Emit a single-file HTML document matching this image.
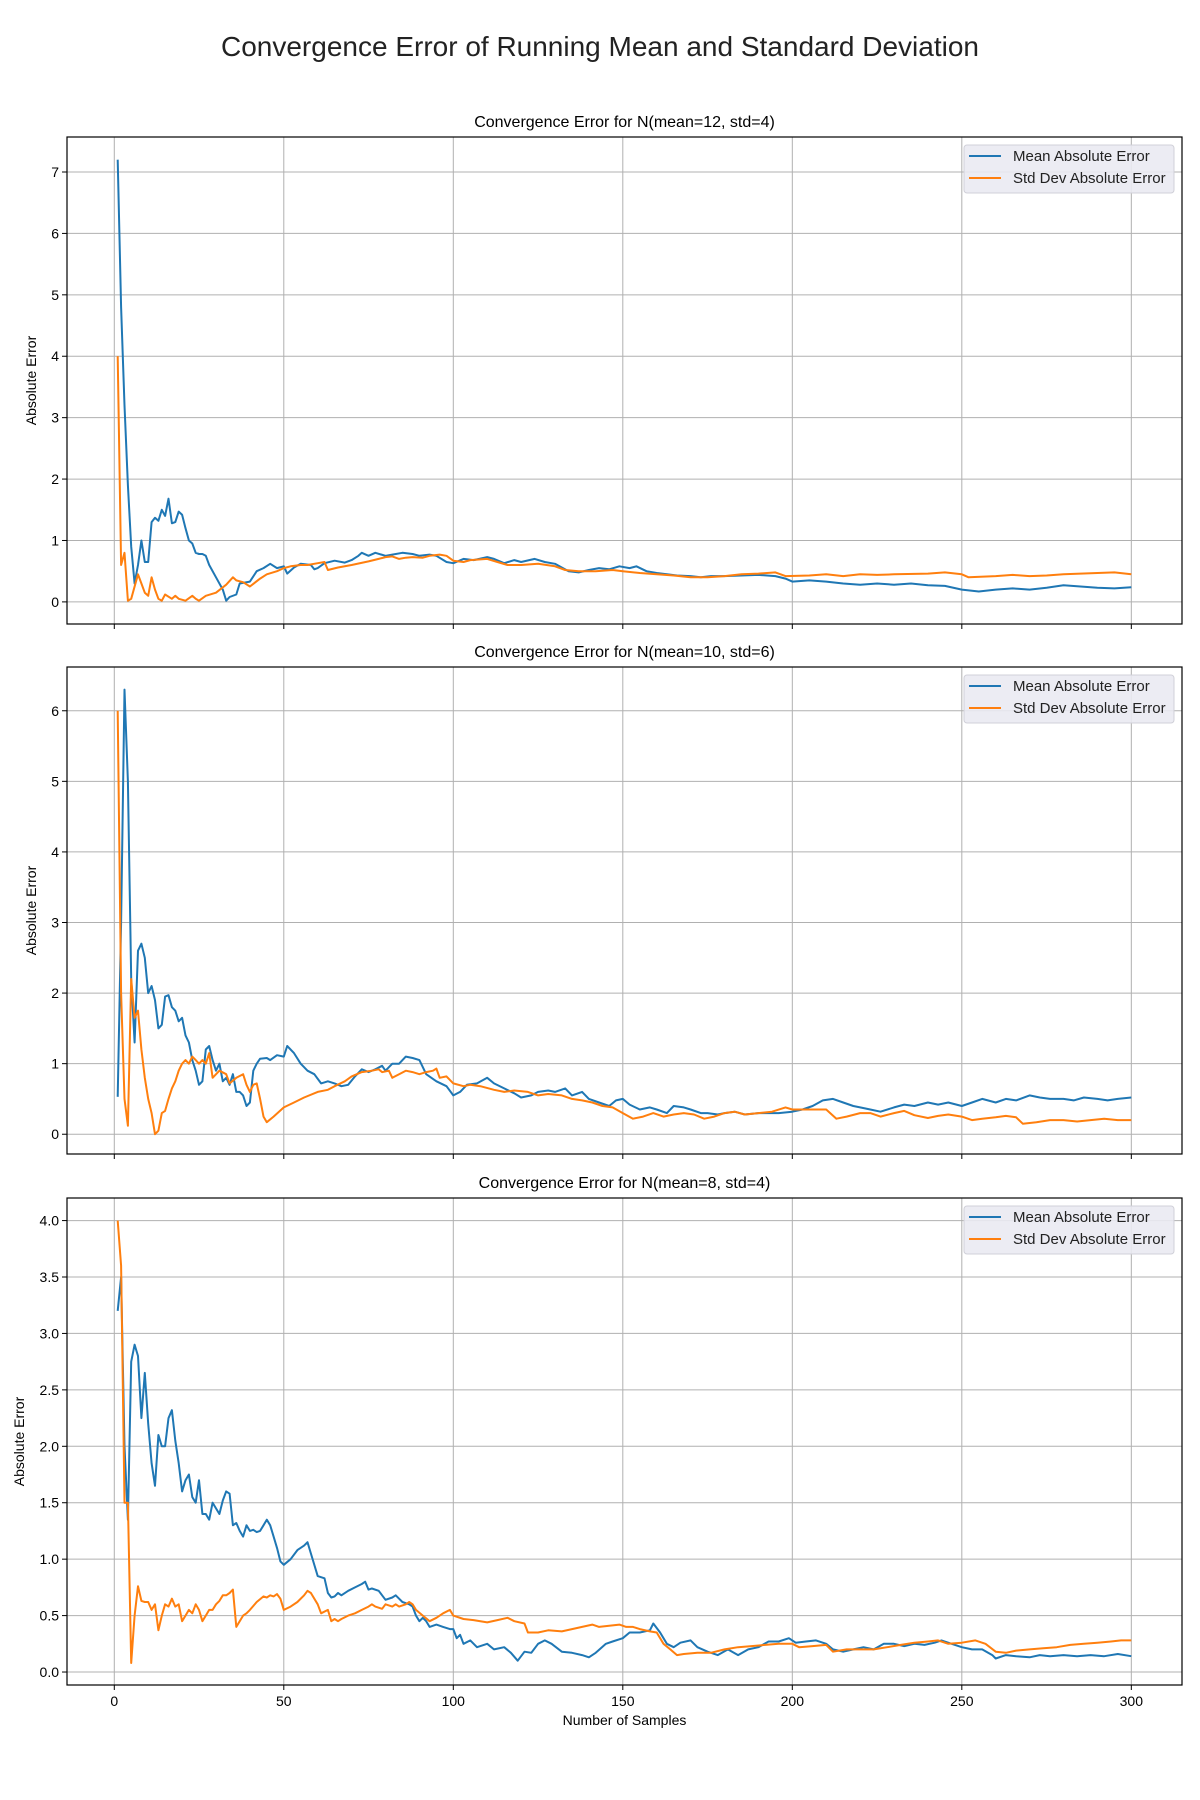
<!DOCTYPE html>
<html><head><meta charset="utf-8"><style>
body{margin:0;background:#fff;}
svg{display:block;font-family:"Liberation Sans",Arial,sans-serif;}
</style></head><body>
<svg id="fig" width="1200" height="1800" viewBox="0 0 1200 1800" xmlns="http://www.w3.org/2000/svg">
<text x="600" y="56" text-anchor="middle" font-size="28" fill="#222">Convergence Error of Running Mean and Standard Deviation</text>
</svg>
<script>
const xTicks=[0,50,100,150,200,250,300];
const titles=["Convergence Error for N(mean=12, std=4)","Convergence Error for N(mean=10, std=6)","Convergence Error for N(mean=8, std=4)"];
const legendLabels=["Mean Absolute Error","Std Dev Absolute Error"];
const p1Ticks=[0,1,2,3,4,5,6,7];
const p2Ticks=[0,1,2,3,4,5,6];
const p3Ticks=[0,0.5,1,1.5,2,2.5,3,3.5,4];
const p3TickLabels=["0.0","0.5","1.0","1.5","2.0","2.5","3.0","3.5","4.0"];

const p1MeanX=[1,2,3,4,5,6,7,8,9,10,11,12,13,14,15,16,17,18,19,20,21,22,23,24,25,26,27,28,30,32,33,34,36,37,40,42,44,46,48,50,51,53,55,58,59,60,62,65,68,70,72,73,75,77,80,82,85,88,90,93,95,98,100,103,106,110,112,115,118,120,124,127,130,134,137,140,143,146,149,152,154,157,160,163,166,170,173,176,180,185,190,195,198,200,205,210,215,220,225,230,235,240,245,250,255,260,265,270,275,280,285,290,295,300];
const p1MeanY=[7.2,4.8,3.2,1.9,0.9,0.3,0.6,1.0,0.65,0.65,1.3,1.37,1.32,1.5,1.4,1.68,1.28,1.3,1.47,1.42,1.2,1.0,0.95,0.8,0.78,0.78,0.75,0.6,0.4,0.2,0.02,0.08,0.12,0.3,0.33,0.5,0.55,0.62,0.55,0.58,0.46,0.56,0.62,0.6,0.53,0.55,0.63,0.67,0.64,0.68,0.75,0.8,0.75,0.8,0.75,0.77,0.8,0.78,0.75,0.77,0.75,0.65,0.63,0.7,0.68,0.73,0.7,0.63,0.68,0.65,0.7,0.65,0.62,0.5,0.48,0.52,0.55,0.53,0.58,0.55,0.58,0.5,0.47,0.45,0.43,0.42,0.4,0.42,0.42,0.43,0.44,0.42,0.38,0.33,0.35,0.33,0.3,0.28,0.3,0.28,0.3,0.27,0.26,0.2,0.17,0.2,0.22,0.2,0.23,0.27,0.25,0.23,0.22,0.24];
const p1StdX=[1,2,3,4,5,7,8,9,10,11,12,13,14,15,17,18,19,21,23,24,25,27,30,33,35,36,38,40,43,45,48,50,52,55,57,60,62,63,66,70,75,78,80,82,84,86,88,91,93,96,98,100,103,105,110,113,116,120,125,130,133,137,142,147,150,155,160,165,170,175,180,185,190,195,198,205,210,215,220,225,230,240,245,250,252,260,265,270,275,280,285,290,295,300];
const p1StdY=[4.0,0.6,0.8,0.02,0.05,0.45,0.3,0.15,0.1,0.4,0.2,0.05,0.02,0.12,0.05,0.1,0.05,0.02,0.1,0.05,0.02,0.1,0.15,0.28,0.4,0.35,0.32,0.25,0.38,0.45,0.5,0.55,0.58,0.6,0.6,0.63,0.65,0.52,0.56,0.6,0.66,0.7,0.73,0.74,0.7,0.72,0.73,0.72,0.75,0.77,0.75,0.67,0.65,0.68,0.7,0.65,0.6,0.6,0.62,0.58,0.52,0.5,0.5,0.52,0.5,0.47,0.45,0.43,0.4,0.4,0.42,0.45,0.46,0.48,0.42,0.43,0.45,0.42,0.45,0.44,0.45,0.46,0.48,0.45,0.4,0.42,0.44,0.42,0.43,0.45,0.46,0.47,0.48,0.45];

const p2MeanX=[1,2,3,4,5,6,7,8,9,10,11,12,13,14,15,16,17,18,19,20,21,22,23,24,25,26,27,28,29,30,31,32,33,34,35,36,37,38,39,40,41,42,43,45,46,48,50,51,53,55,57,59,61,63,65,67,69,71,73,75,77,79,80,82,84,86,88,90,92,95,98,100,102,104,107,110,112,115,118,120,123,125,128,130,133,135,138,140,143,146,148,150,152,155,158,160,163,165,168,170,173,175,178,180,183,186,190,193,196,200,203,206,209,212,215,218,220,223,226,230,233,236,240,243,246,250,253,256,260,263,266,270,273,276,280,283,286,290,293,296,300];
const p2MeanY=[0.53,3.0,6.3,5.0,2.2,1.3,2.6,2.7,2.5,2.0,2.1,1.9,1.5,1.55,1.95,1.97,1.8,1.75,1.6,1.65,1.4,1.3,1.05,0.9,0.7,0.75,1.2,1.25,1.05,0.9,1.0,0.75,0.8,0.7,0.85,0.6,0.6,0.55,0.4,0.45,0.9,1.0,1.07,1.08,1.05,1.12,1.1,1.25,1.15,1.0,0.9,0.85,0.72,0.75,0.72,0.68,0.7,0.82,0.92,0.88,0.92,0.97,0.9,1.0,1.0,1.1,1.08,1.05,0.85,0.75,0.68,0.55,0.6,0.7,0.72,0.8,0.72,0.65,0.58,0.52,0.55,0.6,0.62,0.6,0.65,0.55,0.6,0.5,0.45,0.4,0.48,0.5,0.42,0.35,0.38,0.35,0.3,0.4,0.38,0.35,0.3,0.3,0.28,0.3,0.32,0.28,0.3,0.3,0.3,0.32,0.35,0.4,0.48,0.5,0.45,0.4,0.38,0.35,0.32,0.38,0.42,0.4,0.45,0.42,0.45,0.4,0.45,0.5,0.45,0.5,0.48,0.55,0.52,0.5,0.5,0.48,0.52,0.5,0.48,0.5,0.52];
const p2StdX=[1,2,3,4,5,6,7,8,9,10,11,12,13,14,15,16,17,18,19,20,21,22,23,24,25,26,27,28,29,31,33,34,36,38,39,40,41,42,43,44,45,47,50,53,56,60,63,65,68,70,73,76,78,79,81,82,84,86,88,90,92,94,95,96,98,100,103,105,108,112,115,118,122,125,128,132,135,138,141,144,147,150,153,156,159,162,165,168,171,174,177,180,183,186,190,194,198,200,205,210,213,216,220,223,226,230,233,236,240,243,246,250,253,256,260,263,266,268,272,276,280,284,288,292,296,300];
const p2StdY=[6.0,2.0,0.5,0.12,2.2,1.65,1.75,1.2,0.8,0.5,0.3,0.0,0.05,0.3,0.33,0.5,0.65,0.75,0.9,1.0,1.05,1.0,1.1,1.05,1.0,1.05,1.0,1.15,0.8,0.9,0.85,0.72,0.8,0.85,0.7,0.6,0.7,0.72,0.5,0.25,0.17,0.25,0.38,0.45,0.52,0.6,0.63,0.68,0.75,0.82,0.88,0.9,0.92,0.88,0.9,0.8,0.85,0.9,0.88,0.85,0.88,0.9,0.93,0.8,0.82,0.72,0.68,0.7,0.68,0.63,0.6,0.62,0.6,0.55,0.57,0.55,0.5,0.48,0.45,0.4,0.38,0.3,0.22,0.25,0.3,0.25,0.28,0.3,0.28,0.22,0.25,0.3,0.32,0.28,0.3,0.32,0.38,0.35,0.35,0.35,0.22,0.25,0.3,0.3,0.25,0.3,0.33,0.27,0.23,0.26,0.28,0.25,0.2,0.22,0.24,0.26,0.24,0.15,0.17,0.2,0.2,0.18,0.2,0.22,0.2,0.2];

const p3MeanX=[1,2,3,4,5,6,7,8,9,10,11,12,13,14,15,16,17,18,19,20,21,22,23,24,25,26,27,28,29,30,31,32,33,34,35,36,37,38,39,40,41,42,43,44,45,46,47,48,49,50,52,54,56,57,58,60,62,63,64,65,66,67,69,71,73,74,75,76,78,79,80,82,83,84,85,87,88,89,90,91,92,93,95,97,99,100,101,102,103,105,107,110,112,115,117,119,121,123,125,127,129,132,135,138,140,142,145,147,150,152,155,158,159,161,163,165,167,170,172,175,178,181,184,187,190,193,196,199,201,204,207,210,212,215,218,221,224,227,230,233,236,239,242,244,247,250,253,256,259,260,263,266,270,273,276,280,284,288,292,296,300];
const p3MeanY=[3.2,3.5,2.0,1.35,2.75,2.9,2.8,2.25,2.65,2.2,1.85,1.65,2.1,2.0,2.0,2.25,2.32,2.05,1.85,1.6,1.7,1.75,1.55,1.5,1.7,1.4,1.4,1.35,1.5,1.45,1.4,1.52,1.6,1.58,1.3,1.32,1.25,1.2,1.3,1.25,1.26,1.24,1.25,1.3,1.35,1.3,1.2,1.1,0.98,0.95,1.0,1.08,1.12,1.15,1.05,0.85,0.83,0.7,0.66,0.67,0.7,0.68,0.72,0.75,0.78,0.8,0.73,0.74,0.72,0.68,0.64,0.66,0.68,0.65,0.62,0.6,0.58,0.5,0.45,0.48,0.45,0.4,0.42,0.4,0.38,0.38,0.3,0.33,0.25,0.28,0.22,0.25,0.2,0.22,0.17,0.1,0.18,0.17,0.25,0.28,0.25,0.18,0.17,0.15,0.13,0.17,0.25,0.27,0.3,0.35,0.35,0.37,0.43,0.35,0.25,0.22,0.26,0.28,0.22,0.18,0.15,0.2,0.15,0.2,0.22,0.27,0.27,0.3,0.26,0.27,0.28,0.25,0.2,0.18,0.2,0.22,0.2,0.25,0.25,0.23,0.25,0.24,0.26,0.28,0.25,0.22,0.2,0.2,0.15,0.12,0.15,0.14,0.13,0.15,0.14,0.15,0.14,0.15,0.14,0.16,0.14];
const p3StdX=[1,2,3,4,5,6,7,8,9,10,11,12,13,14,15,16,17,18,19,20,21,22,23,24,25,26,27,28,29,30,31,32,33,34,35,36,37,38,39,40,42,44,45,46,47,48,49,50,52,54,56,57,58,60,61,63,64,65,66,67,69,71,73,75,76,77,79,80,82,83,84,86,87,88,89,91,93,95,97,99,100,103,106,110,113,116,118,121,122,125,128,132,135,138,141,143,146,149,151,153,155,158,160,162,164,166,168,172,176,180,184,188,192,196,200,202,206,210,212,216,220,224,228,232,236,240,243,246,250,254,257,260,263,266,270,274,278,282,286,290,294,297,300];
const p3StdY=[4.0,3.6,1.5,1.5,0.08,0.5,0.76,0.63,0.62,0.62,0.55,0.6,0.37,0.5,0.6,0.58,0.65,0.58,0.6,0.45,0.5,0.55,0.52,0.6,0.55,0.45,0.5,0.55,0.55,0.6,0.63,0.68,0.68,0.7,0.73,0.4,0.45,0.5,0.52,0.55,0.62,0.67,0.66,0.68,0.67,0.69,0.65,0.55,0.58,0.62,0.68,0.72,0.7,0.6,0.52,0.55,0.45,0.47,0.45,0.47,0.5,0.52,0.55,0.58,0.6,0.58,0.56,0.6,0.58,0.6,0.58,0.6,0.62,0.6,0.55,0.5,0.45,0.48,0.52,0.55,0.5,0.47,0.46,0.44,0.46,0.48,0.45,0.43,0.35,0.35,0.37,0.36,0.38,0.4,0.42,0.4,0.41,0.42,0.4,0.4,0.38,0.36,0.35,0.25,0.2,0.15,0.16,0.17,0.17,0.2,0.22,0.23,0.24,0.25,0.25,0.22,0.23,0.24,0.18,0.2,0.2,0.2,0.22,0.24,0.26,0.27,0.28,0.25,0.26,0.28,0.25,0.18,0.17,0.19,0.2,0.21,0.22,0.24,0.25,0.26,0.27,0.28,0.28];

const NS="http://www.w3.org/2000/svg";
const svg=document.getElementById('fig');
function mk(tag,attrs,parent){const e=document.createElementNS(NS,tag);for(const k in attrs)e.setAttribute(k,attrs[k]);(parent||svg).appendChild(e);return e;}
const L=67,R=1182,XMIN=-13.95,XMAX=314.95;
function xs(v){return L+(v-XMIN)/(XMAX-XMIN)*(R-L);}
const panels=[
 {top:137,ymin:-0.36,ymax:7.57,ticks:p1Ticks,labels:p1Ticks.map(String),mx:p1MeanX,my:p1MeanY,sx:p1StdX,sy:p1StdY,ylx:36},
 {top:667,ymin:-0.28,ymax:6.62,ticks:p2Ticks,labels:p2Ticks.map(String),mx:p2MeanX,my:p2MeanY,sx:p2StdX,sy:p2StdY,ylx:36},
 {top:1198,ymin:-0.115,ymax:4.2,ticks:p3Ticks,labels:p3TickLabels,mx:p3MeanX,my:p3MeanY,sx:p3StdX,sy:p3StdY,ylx:24}
];
const H=487;
panels.forEach((p,i)=>{
 const g=mk('g',{});
 
 
 const ys=v=>p.top+H-(v-p.ymin)/(p.ymax-p.ymin)*H;
 const t=mk('text',{x:(L+R)/2,y:p.top-10,'text-anchor':'middle','font-size':16,fill:'#000'},g);t.textContent=titles[i];
 
 
 xTicks.forEach(v=>{
  const gl=mk('line',{x1:xs(v),x2:xs(v),y1:p.top,y2:p.top+H,stroke:'#b0b0b0','stroke-width':1},g);
  
  
  mk('line',{x1:xs(v),x2:xs(v),y1:p.top+H,y2:p.top+H+5,stroke:'#000','stroke-width':1},g);
  if(i===2){const tl=mk('text',{x:xs(v),y:p.top+H+21,'text-anchor':'middle','font-size':14,fill:'#000'},g);tl.textContent=v;
   
   }
 });
 p.ticks.forEach((v,k)=>{
  const gl=mk('line',{x1:L,x2:R,y1:ys(v),y2:ys(v),stroke:'#b0b0b0','stroke-width':1},g);
  
  
  mk('line',{x1:L-5,x2:L,y1:ys(v),y2:ys(v),stroke:'#000','stroke-width':1},g);
  const tl=mk('text',{x:L-8,y:ys(v)+5,'text-anchor':'end','font-size':14,fill:'#000'},g);tl.textContent=p.labels[k];
  
  
 });
 const yl=mk('text',{x:p.ylx,y:p.top+H/2,'text-anchor':'middle','font-size':14,fill:'#000',transform:`rotate(-90 ${p.ylx} ${p.top+H/2})`},g);yl.textContent='Absolute Error';
 
 
 const mkLine=(X,Y,col,name)=>{const pl=mk('polyline',{points:X.map((x,j)=>xs(x).toFixed(1)+','+ys(Y[j]).toFixed(1)).join(' '),fill:'none',stroke:col,'stroke-width':2,'stroke-linejoin':'round'},g);
  
  };
 mkLine(p.mx,p.my,'#1f77b4','mean-error-line');
 mkLine(p.sx,p.sy,'#ff7f0e','std-error-line');
 const fr=mk('rect',{x:L,y:p.top,width:R-L,height:H,fill:'none',stroke:'#000','stroke-width':1.2},g);
 
 
 const lg=mk('g',{},g);
 
 
 mk('rect',{x:964,y:p.top+8,width:210,height:48,rx:3,fill:'#eaeaf2','fill-opacity':0.9,stroke:'#d0d0d8','stroke-width':1},lg);
 ['#1f77b4','#ff7f0e'].forEach((c,k)=>{
  const yy=p.top+19+k*22;
  mk('line',{x1:969,x2:1001,y1:yy,y2:yy,stroke:c,'stroke-width':2},lg);
  const lt=mk('text',{x:1013,y:yy+5,'font-size':15,fill:'#222'},lg);lt.textContent=legendLabels[k];
  
  
 });
});
const xl=mk('text',{x:(L+R)/2,y:1725,'text-anchor':'middle','font-size':14,fill:'#000'});xl.textContent='Number of Samples';


</script>
</body></html>
